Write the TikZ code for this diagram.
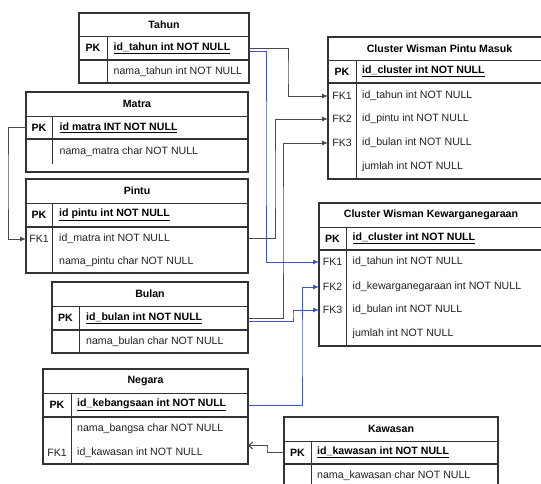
\documentclass[tikz,border=0pt]{standalone}
\usepackage{fontspec}
\setmainfont{Liberation Sans}
\usetikzlibrary{arrows.meta}
\definecolor{bordercol}{HTML}{333333}
\definecolor{linkgray}{HTML}{4A4A4A}
\definecolor{linkblue}{HTML}{3F55C8}
\definecolor{txtcol}{HTML}{222222}
\tikzset{
  tblbox/.style={draw=bordercol, line width=1.1pt, inner sep=0, outer sep=0, anchor=north west},
  sepline/.style={draw=bordercol, line width=1pt},
  pkline/.style={draw=bordercol, line width=1.7pt},
  ttl/.style={font=\fontsize{10.6}{12}\selectfont\bfseries, text=black, inner sep=0},
  keylbl/.style={font=\fontsize{10.6}{12}\selectfont, text=txtcol, inner sep=0},
  keypk/.style={font=\fontsize{10.6}{12}\selectfont\bfseries, text=black, inner sep=0},
  fld/.style={font=\fontsize{10.6}{12}\selectfont, text=txtcol, inner sep=0, anchor=west},
  fldpk/.style={font=\fontsize{10.6}{12}\selectfont\bfseries, text=black, inner sep=0, anchor=west},
  rowbox/.style={draw=none, inner sep=0, outer sep=0, minimum height=22pt},
  grayarrow/.style={draw=linkgray, line width=1pt, -{Latex[length=6pt,width=5pt]}},
  bluearrow/.style={draw=linkblue, line width=1pt, -{Latex[length=6pt,width=5pt]}},
  openarrow/.style={draw=linkgray, line width=1pt, -{Straight Barb[length=4pt,width=7pt]}}
}
\begin{document}
\begin{tikzpicture}[x=1pt,y=-1pt]
\useasboundingbox (0,0) rectangle (541,483);
\clip (0,0) rectangle (541,483);
\fill[white] (0,0) rectangle (541,483);

% ---------- Tahun ----------
\node[tblbox, minimum width=170pt, minimum height=70pt] (tahun) at (79,13) {};
\draw[sepline] (79,36) -- (249,36);
\draw[pkline] (79,60) -- (249,60);
\draw[sepline] (107,36) -- (107,83);
\node[ttl] (tahun-t) at (164,24.5) {Tahun};
\node[keypk] (tahun-k1) at (93,48) {PK};
\node[fldpk] (tahun-f1) at (113.5,48) {\underline{id\_tahun int NOT NULL}};
\node[fld] (tahun-f2) at (113.5,71.5) {nama\_tahun int NOT NULL};
\node[rowbox, minimum width=170pt] (tahun-pk) at (164,48) {};

% ---------- Matra ----------
\node[tblbox, minimum width=222pt, minimum height=80pt] (matra) at (26,92) {};
\draw[sepline] (26,116) -- (248,116);
\draw[pkline] (26,139) -- (248,139);
\draw[sepline] (52,116) -- (52,164);
\node[ttl] (matra-t) at (137,104) {Matra};
\node[keypk] (matra-k1) at (39,127.5) {PK};
\node[fldpk] (matra-f1) at (59.5,127.5) {\underline{id matra INT NOT NULL}};
\node[fld] (matra-f2) at (59.5,152) {nama\_matra char NOT NULL};
\node[rowbox, minimum width=222pt] (matra-pk) at (137,127.5) {};

% ---------- Pintu ----------
\node[tblbox, minimum width=222pt, minimum height=94pt] (pintu) at (26,179) {};
\draw[sepline] (26,203) -- (248,203);
\draw[pkline] (26,227) -- (248,227);
\draw[sepline] (52,203) -- (52,273);
\node[ttl] (pintu-t) at (137,191) {Pintu};
\node[keypk] (pintu-k1) at (39,215) {PK};
\node[keylbl] (pintu-k2) at (39,239) {FK1};
\node[fldpk] (pintu-f1) at (59,215) {\underline{id pintu int NOT NULL}};
\node[fld] (pintu-f2) at (59,239) {id\_matra int NOT NULL};
\node[fld] (pintu-f3) at (59,262) {nama\_pintu char NOT NULL};
\node[rowbox, minimum width=222pt] (pintu-fk1) at (137,239) {};

% ---------- Bulan ----------
\node[tblbox, minimum width=196pt, minimum height=71pt] (bulan) at (52,282) {};
\draw[sepline] (52,306) -- (248,306);
\draw[pkline] (52,330) -- (248,330);
\draw[sepline] (79,306) -- (79,353);
\node[ttl] (bulan-t) at (150,294) {Bulan};
\node[keypk] (bulan-k1) at (65.5,318) {PK};
\node[fldpk] (bulan-f1) at (86,318) {\underline{id\_bulan int NOT NULL}};
\node[fld] (bulan-f2) at (86,341.5) {nama\_bulan char NOT NULL};
\node[rowbox, minimum width=196pt] (bulan-pk) at (150,318) {};

% ---------- Negara ----------
\node[tblbox, minimum width=205pt, minimum height=95pt] (negara) at (43,369) {};
\draw[sepline] (43,393) -- (248,393);
\draw[pkline] (43,417) -- (248,417);
\draw[sepline] (71,393) -- (71,464);
\node[ttl] (negara-t) at (145.5,381) {Negara};
\node[keypk] (negara-k1) at (57,405) {PK};
\node[keylbl] (negara-k3) at (57,452.5) {FK1};
\node[fldpk] (negara-f1) at (77,405) {\underline{id\_kebangsaan int NOT NULL}};
\node[fld] (negara-f2) at (77,429) {nama\_bangsa char NOT NULL};
\node[fld] (negara-f3) at (77,452.5) {id\_kawasan int NOT NULL};
\node[rowbox, minimum width=205pt] (negara-pk) at (145.5,405) {};
\node[rowbox, minimum width=205pt] (negara-fk1) at (145.5,452.5) {};

% ---------- Cluster Wisman Pintu Masuk ----------
\node[tblbox, minimum width=223pt, minimum height=142pt] (cwpm) at (328,37) {};
\draw[sepline] (328,60) -- (551,60);
\draw[pkline] (328,83) -- (551,83);
\draw[sepline] (356,60) -- (356,179);
\node[ttl] (cwpm-t) at (439.5,48.5) {Cluster Wisman Pintu Masuk};
\node[keypk] (cwpm-k1) at (342,71.5) {PK};
\node[keylbl] (cwpm-k2) at (342,96) {FK1};
\node[keylbl] (cwpm-k3) at (342,119) {FK2};
\node[keylbl] (cwpm-k4) at (342,143) {FK3};
\node[fldpk] (cwpm-f1) at (362,71.5) {\underline{id\_cluster int NOT NULL}};
\node[fld] (cwpm-f2) at (362,96) {id\_tahun int NOT NULL};
\node[fld] (cwpm-f3) at (362,119) {id\_pintu int NOT NULL};
\node[fld] (cwpm-f4) at (362,143) {id\_bulan int NOT NULL};
\node[fld] (cwpm-f5) at (362,167) {jumlah int NOT NULL};
\node[rowbox, minimum width=223pt] (cwpm-fk1) at (439.5,96) {};
\node[rowbox, minimum width=223pt] (cwpm-fk2) at (439.5,119) {};
\node[rowbox, minimum width=223pt] (cwpm-fk3) at (439.5,143) {};

% ---------- Cluster Wisman Kewarganegaraan ----------
\node[tblbox, minimum width=224pt, minimum height=143pt] (cwk) at (319,203) {};
\draw[sepline] (319,227) -- (543,227);
\draw[pkline] (319,250) -- (543,250);
\draw[sepline] (346,227) -- (346,346);
\node[ttl] (cwk-t) at (431,215) {Cluster Wisman Kewarganegaraan};
\node[keypk] (cwk-k1) at (332.5,238.5) {PK};
\node[keylbl] (cwk-k2) at (332.5,262) {FK1};
\node[keylbl] (cwk-k3) at (332.5,287) {FK2};
\node[keylbl] (cwk-k4) at (332.5,310) {FK3};
\node[fldpk] (cwk-f1) at (352.5,238.5) {\underline{id\_cluster int NOT NULL}};
\node[fld] (cwk-f2) at (352.5,262) {id\_tahun int NOT NULL};
\node[fld] (cwk-f3) at (352.5,287) {id\_kewarganegaraan int NOT NULL};
\node[fld] (cwk-f4) at (352.5,310) {id\_bulan int NOT NULL};
\node[fld] (cwk-f5) at (352.5,334) {jumlah int NOT NULL};
\node[rowbox, minimum width=224pt] (cwk-fk1) at (431,262) {};
\node[rowbox, minimum width=224pt] (cwk-fk2) at (431,287) {};
\node[rowbox, minimum width=224pt] (cwk-fk3) at (431,310) {};

% ---------- Kawasan ----------
\node[tblbox, minimum width=214pt, minimum height=73pt] (kawasan) at (284,417) {};
\draw[sepline] (284,441) -- (498,441);
\draw[pkline] (284,464) -- (498,464);
\draw[sepline] (311,441) -- (311,490);
\node[ttl] (kawasan-t) at (391,429) {Kawasan};
\node[keypk] (kawasan-k1) at (297.5,452.5) {PK};
\node[fldpk] (kawasan-f1) at (317,452.5) {\underline{id\_kawasan int NOT NULL}};
\node[fld] (kawasan-f2) at (317,476) {nama\_kawasan char NOT NULL};
\node[rowbox, minimum width=214pt] (kawasan-pk) at (391,452.5) {};

% ---------- Connectors ----------
\draw[grayarrow] (tahun-pk.east) -| (288,72) |- (cwpm-fk1.west);
\draw[bluearrow] ([yshift=-3pt]tahun-pk.east) -| (266,150) |- (cwk-fk1.west);
\draw[grayarrow] (matra-pk.west) -| (8,180) |- (pintu-fk1.west);
\draw[grayarrow] ([yshift=1pt]pintu-fk1.east) -| (275,180) |- (cwpm-fk2.west);
\draw[grayarrow] (bulan-pk.east) -| (283,230) |- (cwpm-fk3.west);
\draw[bluearrow] ([yshift=-3pt]bulan-pk.east) -| (293,315) |- (cwk-fk3.west);
\draw[bluearrow] (negara-pk.east) -| (302,350) |- (cwk-fk2.west);
\coordinate (kw-bend) at (267,449);
\draw[openarrow] (kawasan-pk.west) -| (kw-bend) |- ([yshift=7pt]negara-fk1.east);
\end{tikzpicture}
\end{document}
